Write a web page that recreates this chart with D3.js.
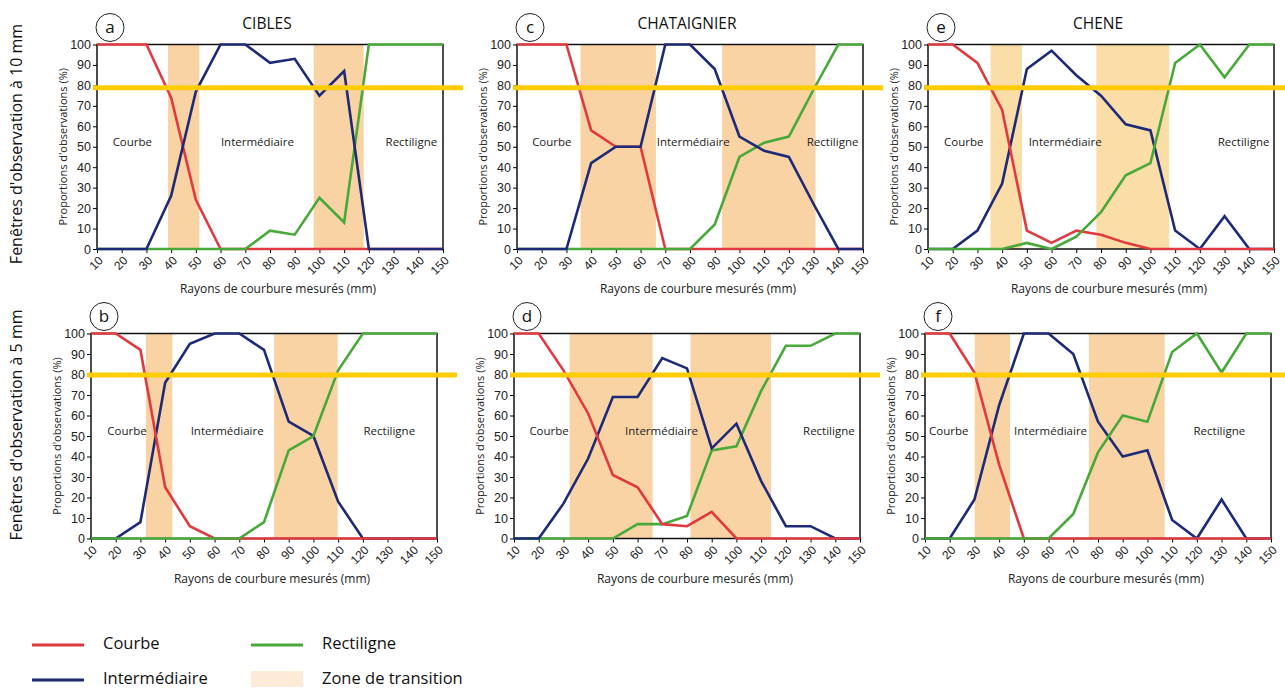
<!DOCTYPE html>
<html>
<head>
<meta charset="utf-8">
<script src="https://cdn.jsdelivr.net/npm/d3@7"></script>
<style>
  body { margin: 0; background: #fff; }
  svg { font-family: "Open Sans", "Noto Sans", sans-serif; }
  .tick text { fill: #222; }
</style>
</head>
<body>
<svg id="chart" width="1285" height="690"></svg>
<script>
// ─── Data ─────────────────────────────────────────────────────────────────
const RADII = [10, 20, 30, 40, 50, 60, 70, 80, 90, 100, 110, 120, 130, 140, 150];
const Y_TICKS = [0, 10, 20, 30, 40, 50, 60, 70, 80, 90, 100];
// threshold line as drawn in each row (nominally 80 %)
const THRESHOLDS = [78.8, 79.7];

// CIBLES, 10 mm
const A_COURBE = [100, 100, 100, 74, 24, 0, 0, 0, 0, 0, 0, 0, 0, 0, 0];
const A_INTER  = [0, 0, 0, 26, 77, 100, 100, 91, 93, 75, 87, 0, 0, 0, 0];
const A_RECT   = [0, 0, 0, 0, 0, 0, 0, 9, 7, 25, 13, 100, 100, 100, 100];
// CHATAIGNIER, 10 mm
const C_COURBE = [100, 100, 100, 58, 50, 50, 0, 0, 0, 0, 0, 0, 0, 0, 0];
const C_INTER  = [0, 0, 0, 42, 50, 50, 100, 100, 88, 55, 48, 45, 22, 0, 0];
const C_RECT   = [0, 0, 0, 0, 0, 0, 0, 0, 12, 45, 52, 55, 78, 100, 100];
// CHENE, 10 mm
const E_COURBE = [100, 100, 91, 68, 9, 3, 9, 7, 3, 0, 0, 0, 0, 0, 0];
const E_INTER  = [0, 0, 9, 32, 88, 97, 85, 75, 61, 58, 9, 0, 16, 0, 0];
const E_RECT   = [0, 0, 0, 0, 3, 0, 6, 18, 36, 42, 91, 100, 84, 100, 100];
// CIBLES, 5 mm
const B_COURBE = [100, 100, 92, 25, 6, 0, 0, 0, 0, 0, 0, 0, 0, 0, 0];
const B_INTER  = [0, 0, 8, 76, 95, 100, 100, 92, 57, 50, 18, 0, 0, 0, 0];
const B_RECT   = [0, 0, 0, 0, 0, 0, 0, 8, 43, 50, 82, 100, 100, 100, 100];
// CHATAIGNIER, 5 mm
const D_COURBE = [100, 100, 82, 61, 31, 25, 7, 6, 13, 0, 0, 0, 0, 0, 0];
const D_INTER  = [0, 0, 17, 39, 69, 69, 88, 83, 44, 56, 28, 6, 6, 0, 0];
const D_RECT   = [0, 0, 0, 0, 0, 7, 7, 11, 43, 45, 72, 94, 94, 100, 100];
// CHENE, 5 mm
const F_COURBE = [100, 100, 81, 36, 0, 0, 0, 0, 0, 0, 0, 0, 0, 0, 0];
const F_INTER  = [0, 0, 19, 65, 100, 100, 90, 57, 40, 43, 9, 0, 19, 0, 0];
const F_RECT   = [0, 0, 0, 0, 0, 0, 12, 42, 60, 57, 91, 100, 81, 100, 100];

// transition zones (radius ranges)
const A_ZONES = [[38.7, 51.4], [97.7, 117.9]];
const C_ZONES = [[35.7, 66.2], [93, 130.8]];
const E_ZONES = [[35.3, 48], [78.1, 107.6]];
const B_ZONES = [[32.2, 42.9], [84.1, 109.8]];
const D_ZONES = [[32.5, 66.1], [81.4, 114]];
const F_ZONES = [[30.1, 44.4], [76.3, 107]];

// radius at which each class label is centred
const A_LABEL_AT = [24.3, 74.9, 137.2];
const C_LABEL_AT = [24.1, 81.3, 137.7];
const E_LABEL_AT = [24.5, 65.5, 137.7];
const B_LABEL_AT = [24.6, 65.1, 130.7];
const D_LABEL_AT = [24.2, 69.7, 137.4];
const F_LABEL_AT = [19.6, 60.8, 129.1];

const CLASS_NAMES = ["Courbe", "Intermédiaire", "Rectiligne"];
const ROW_TITLES = ["Fenêtres d'observation à 10 mm", "Fenêtres d'observation à 5 mm"];

// ─── Style ────────────────────────────────────────────────────────────────
const COLORS = { courbe: "#E0393F", inter: "#1D2A78", rect: "#48A93A" };
const ZONE_FILL = "#F9D3A4";
const ZONE_FILL_E = "#FADDA7";
const GOLD = "#FFCC00";

const W = 346;
const ROW_TOP = [44.5, 333.5];
const ROW_H = [204.5, 205];
const COL_LEFT = [[97, 517, 928], [91, 514, 925]];

const panels = [
  { id: "a", title: "CIBLES", row: 0, col: 0, courbe: A_COURBE, inter: A_INTER, rect: A_RECT,
    zones: A_ZONES, labels: A_LABEL_AT, order: ["courbe", "rect", "inter"] },
  { id: "c", title: "CHATAIGNIER", row: 0, col: 1, courbe: C_COURBE, inter: C_INTER, rect: C_RECT,
    zones: C_ZONES, labels: C_LABEL_AT, order: ["courbe", "rect", "inter"] },
  { id: "e", title: "CHENE", row: 0, col: 2, courbe: E_COURBE, inter: E_INTER, rect: E_RECT,
    zones: E_ZONES, labels: E_LABEL_AT, order: ["inter", "courbe", "rect"], zoneFill: ZONE_FILL_E },
  { id: "b", title: null, row: 1, col: 0, courbe: B_COURBE, inter: B_INTER, rect: B_RECT,
    zones: B_ZONES, labels: B_LABEL_AT, order: ["inter", "courbe", "rect"] },
  { id: "d", title: null, row: 1, col: 1, courbe: D_COURBE, inter: D_INTER, rect: D_RECT,
    zones: D_ZONES, labels: D_LABEL_AT, order: ["rect", "inter", "courbe"] },
  { id: "f", title: null, row: 1, col: 2, courbe: F_COURBE, inter: F_INTER, rect: F_RECT,
    zones: F_ZONES, labels: F_LABEL_AT, order: ["inter", "courbe", "rect"] }
];

const svg = d3.select("#chart");

function drawPanel(p) {
  const x0 = COL_LEFT[p.row][p.col];
  const top = ROW_TOP[p.row];
  const h = ROW_H[p.row];
  const x = d3.scaleLinear().domain([10, 150]).range([x0, x0 + W]);
  const y = d3.scaleLinear().domain([0, 100]).range([top + h, top]);
  const g = svg.append("g");

  // transition zones
  g.selectAll("rect.zone").data(p.zones).join("rect")
    .attr("class", "zone")
    .attr("x", d => x(d[0])).attr("width", d => x(d[1]) - x(d[0]))
    .attr("y", y(100)).attr("height", y(0) - y(100))
    .attr("fill", p.zoneFill || ZONE_FILL);

  // frame
  g.append("rect").attr("x", x(10)).attr("y", y(100))
    .attr("width", x(150) - x(10)).attr("height", y(0) - y(100))
    .attr("fill", "none").attr("stroke", "#111").attr("stroke-width", 1.5);

  // axes
  const yAxis = g.append("g").attr("transform", `translate(${x(10)},0)`)
    .call(d3.axisLeft(y).tickValues(Y_TICKS).tickSize(4).tickPadding(2));
  yAxis.select(".domain").remove();
  yAxis.selectAll("text").attr("font-size", 12.5);

  const xAxis = g.append("g").attr("transform", `translate(0,${y(0)})`)
    .call(d3.axisBottom(x).tickValues(RADII).tickSize(4).tickFormat(d3.format("d")));
  xAxis.select(".domain").remove();
  xAxis.selectAll("text")
    .attr("font-size", 12)
    .attr("text-anchor", "end")
    .attr("dy", null).attr("y", 0)
    .attr("dominant-baseline", "middle")
    .attr("transform", "translate(4,10) rotate(-45)");

  // class labels
  g.selectAll("text.cls").data(p.labels).join("text")
    .attr("class", "cls")
    .attr("x", d => x(d)).attr("y", y(52))
    .attr("text-anchor", "middle").attr("dominant-baseline", "middle")
    .attr("font-size", 11.5).attr("fill", "#222")
    .text((d, i) => CLASS_NAMES[i]);

  // series
  const line = d3.line().x((d, i) => x(RADII[i])).y(d => y(d));
  p.order.forEach(key => {
    g.append("path").datum(p[key])
      .attr("d", line)
      .attr("fill", "none")
      .attr("stroke", COLORS[key])
      .attr("stroke-width", 2.6)
      .attr("stroke-linejoin", "miter");
  });

  // 80 % threshold
  const ty = y(THRESHOLDS[p.row]);
  g.append("line")
    .attr("x1", x(10) - 4).attr("x2", Math.min(1285, x(150) + 20))
    .attr("y1", ty).attr("y2", ty)
    .attr("stroke", GOLD).attr("stroke-width", 5);

  // y-axis title
  const cy = (y(0) + y(100)) / 2;
  g.append("text")
    .attr("transform", `translate(${x(10) - 33},${cy}) rotate(-90)`)
    .attr("text-anchor", "middle").attr("dominant-baseline", "middle")
    .attr("font-size", 11).attr("fill", "#222")
    .text("Proportions d'observations (%)");

  // x-axis title
  g.append("text")
    .attr("x", (x(10) + x(150)) / 2 + 8).attr("y", y(0) + 44)
    .attr("text-anchor", "middle")
    .attr("font-size", 12).attr("fill", "#222")
    .text("Rayons de courbure mesurés (mm)");

  // panel letter
  const lx = x(10) + 13, ly = y(100) - 17;
  g.append("circle").attr("cx", lx).attr("cy", ly).attr("r", 14)
    .attr("fill", "#fff").attr("stroke", "#222").attr("stroke-width", 1);
  g.append("text").attr("x", lx).attr("y", ly + 1)
    .attr("text-anchor", "middle").attr("dominant-baseline", "middle")
    .attr("font-size", 17).attr("fill", "#111").text(p.id);

  if (p.title) {
    g.append("text").attr("x", (x(10) + x(150)) / 2 - 3).attr("y", 29)
      .attr("text-anchor", "middle").attr("font-size", 15.5).attr("fill", "#111")
      .text(p.title);
  }
}

panels.forEach(drawPanel);

// row titles
[144, 425].forEach((cy, i) => {
  svg.append("text")
    .attr("transform", `translate(18,${cy}) rotate(-90)`)
    .attr("text-anchor", "middle").attr("dominant-baseline", "middle")
    .attr("font-size", 16).attr("fill", "#111")
    .text(ROW_TITLES[i]);
});

// legend
const legend = svg.append("g").attr("font-size", 16.5).attr("fill", "#111");
const legendItems = [
  { label: "Courbe", kind: "line", color: COLORS.courbe, x: 32, y: 645 },
  { label: "Intermédiaire", kind: "line", color: COLORS.inter, x: 32, y: 680 },
  { label: "Rectiligne", kind: "line", color: COLORS.rect, x: 251, y: 645 },
  { label: "Zone de transition", kind: "rect", color: "#FDEBD7", x: 251, y: 680 }
];
legendItems.forEach(d => {
  if (d.kind === "line") {
    legend.append("line").attr("x1", d.x).attr("x2", d.x + 52)
      .attr("y1", d.y).attr("y2", d.y)
      .attr("stroke", d.color).attr("stroke-width", 3);
  } else {
    legend.append("rect").attr("x", d.x).attr("y", d.y - 9)
      .attr("width", 52).attr("height", 16).attr("fill", d.color);
  }
  legend.append("text").attr("x", d.x + 71).attr("y", d.y)
    .attr("dominant-baseline", "middle").text(d.label);
});
</script>
</body>
</html>
